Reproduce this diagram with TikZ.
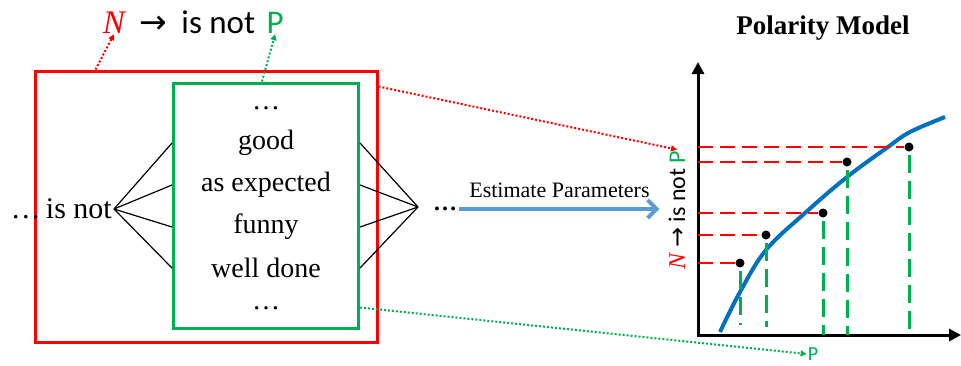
\documentclass[tikz,border=0pt]{standalone}
\usepackage{fontspec}
\setmainfont{Liberation Serif}
\setsansfont{Carlito}
\newfontfamily\arrowfont{DejaVu Sans}
\usetikzlibrary{positioning, arrows.meta}
\definecolor{pgreen}{RGB}{0,176,80}
\definecolor{pblue}{RGB}{91,155,213}
\definecolor{cblue}{RGB}{0,112,192}

\tikzset{
  word/.style={font=\fontsize{28}{30}\selectfont, inner sep=2pt},
  sanslab/.style={font=\sffamily\fontsize{33}{36}\selectfont, inner sep=1pt},
  redbox/.style={draw=red, line width=3pt, minimum width=342pt, minimum height=271pt},
  greenbox/.style={draw=pgreen, line width=3pt, minimum width=185pt, minimum height=245pt},
  fan/.style={black, line width=1.2pt},
  reddots/.style={red, line width=2pt, dash pattern=on 2pt off 2pt, -{Triangle[length=6pt,width=6pt]}},
  greendots/.style={pgreen, line width=2pt, dash pattern=on 2pt off 2pt, -{Triangle[length=6pt,width=6pt]}},
  axis/.style={black, line width=3pt, {Triangle[length=12pt,width=12pt]}-{Triangle[length=12pt,width=12pt]}},
  dot/.style={circle, fill=black, inner sep=0pt, minimum size=9pt},
  hline/.style={red, line width=2pt, dash pattern=on 15pt off 7pt},
  vline/.style={pgreen, line width=3pt, dash pattern=on 18pt off 8pt}
}

\begin{document}
\begin{tikzpicture}[x=1pt, y=-1pt]
  \useasboundingbox (0,0) rectangle (961,365);

  % the context window and its fillers
  \node[redbox] (outer) at (206,206.5) {};
  \node[greenbox] (inner) at (266,205.5) {};
  \node[word] (w0) at (266,108) {\dots};
  \node[word] (w1) at (266,143) {good};
  \node[word] (w2) at (266,185) {as expected};
  \node[word] (w3) at (266,227) {funny};
  \node[word] (w4) at (266,268) {well done};
  \node[word] (w5) at (266,308) {\dots};
  \node[word, font=\fontsize{30}{32}\selectfont, anchor=east] (isnot) at (114,209) {\dots\,is not};
  \coordinate (fanR) at (418,207);
  \node[word, anchor=west, font=\bfseries\fontsize{24}{26}\selectfont] (more) at (431,209) {\dots};
  \foreach \w in {w1,w2,w3,w4} {
    \draw[fan] (isnot.east) -- (inner.west |- \w);
    \draw[fan] (inner.east |- \w) -- (fanR);
  }

  % top label
  \node[sanslab, anchor=base, red] (topN) at (114,33) {\rmfamily\itshape N};
  \node[sanslab, base right=12pt of topN] (toparr) {\arrowfont →};
  \node[sanslab, base right=12pt of toparr] (topis) {is not};
  \node[sanslab, base right=9pt of topis, pgreen] (topP) {P};
  \draw[reddots] ([xshift=62pt]outer.north west) -- (topN.south);
  \draw[greendots] ([xshift=90pt]inner.north west) -- (topP.south);

  % polarity model
  \node[font=\bfseries\fontsize{27}{30}\selectfont] (title) at (823,28) {Polarity Model};
  \coordinate (O) at (698,335);
  \coordinate (ytop) at (698,62);
  \coordinate (xend) at (961,335);
  \draw[axis] (ytop) |- (xend);
  \node[sanslab, font=\sffamily\fontsize{24}{26}\selectfont, rotate=90] (ylab) at (677,210)
    {{\color{red}\rmfamily\itshape N} {\arrowfont →} is not {\color{pgreen}P}};
  \node[sanslab, font=\sffamily\fontsize{20}{22}\selectfont, pgreen] (xlab) at (813,354) {P};
  \draw[cblue, line width=4pt] plot[smooth, tension=0.6] coordinates
    {(720,332) (740,292) (766,250) (805,213) (847,177) (888,147) (910,132) (945,117)};
  \foreach \px/\py/\gap [count=\i] in {740/263/10, 766/235/8, 823/213/0, 847/162/0, 909/147/3} {
    \node[dot] (d\i) at (\px,\py) {};
    \draw[hline] (d\i -| O) -- (d\i);
    \draw[vline, shorten <=3pt, shorten >=\gap pt] (d\i.south) -- (d\i |- O);
  }

  % arrows between the two parts
  \draw[pblue, line width=4pt, -{Straight Barb[length=9pt,width=18pt]}]
    (more.east) -- ([xshift=-8pt]more.east -| ylab.north)
    node[midway, above=6pt, font=\fontsize{22}{24}\selectfont, black] (est) {Estimate Parameters};
  \draw[reddots] ([yshift=-17pt]outer.north east) -- (ylab.east);
  \draw[greendots] ([yshift=22pt]inner.south east) -- (xlab.west);
\end{tikzpicture}
\end{document}
